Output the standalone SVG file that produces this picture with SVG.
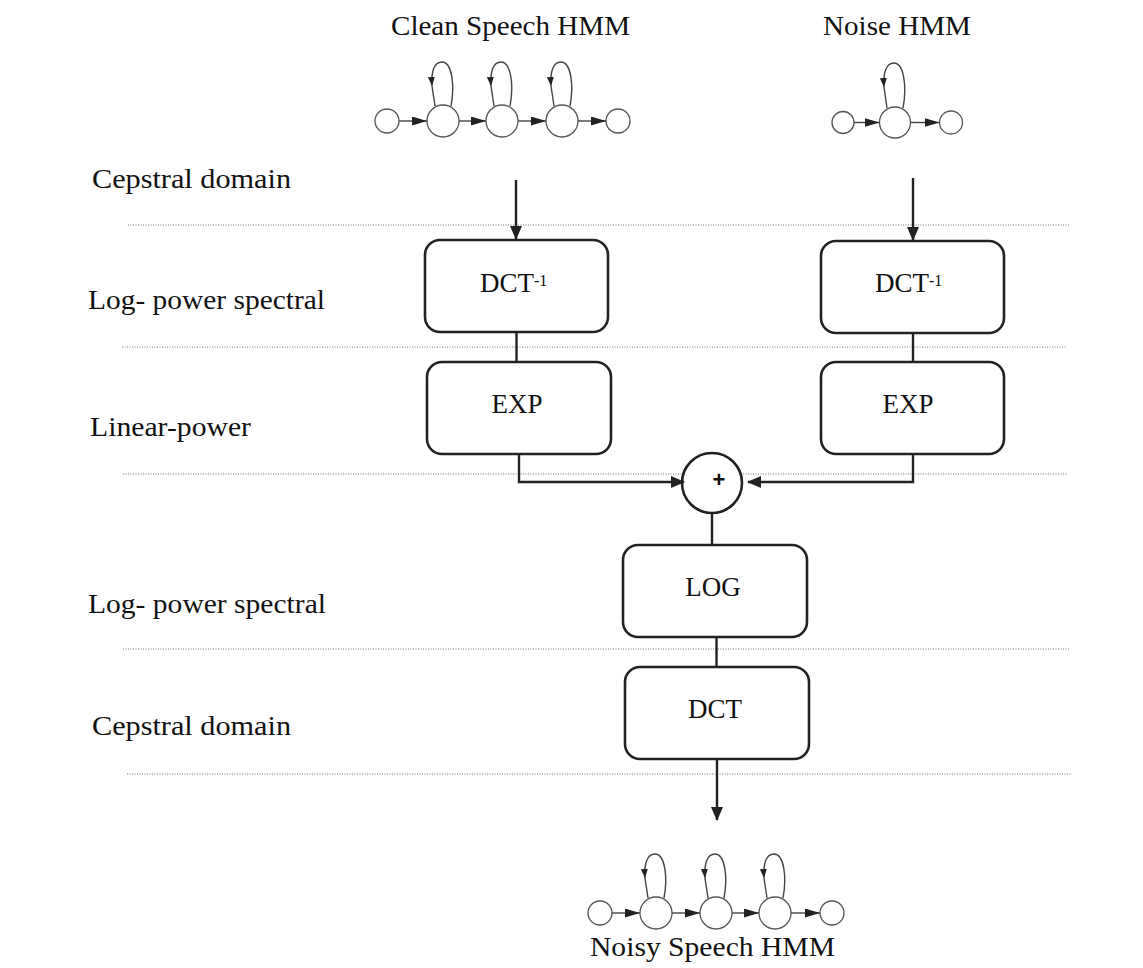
<svg xmlns="http://www.w3.org/2000/svg" width="1143" height="968" viewBox="0 0 1143 968">
<defs>
<style>
.lbl{font-family:"Liberation Serif","Times New Roman",serif;font-size:27px;fill:#111;}
.box{fill:#fff;stroke:#222;stroke-width:2.6;}
.conn{fill:none;stroke:#222;stroke-width:2.4;}
.dot{stroke:#777;stroke-width:1;stroke-dasharray:1 1.5;fill:none;}
.st{fill:#fff;stroke:#555;stroke-width:1.3;}
.hl{fill:none;stroke:#444;stroke-width:1.4;}
</style>
<marker id="arr" markerUnits="userSpaceOnUse" markerWidth="14" markerHeight="12" viewBox="0 0 14 12" refX="13" refY="6" orient="auto">
<path d="M0,0 L14,6 L0,12 z" fill="#222"/>
</marker>
<marker id="harr" markerUnits="userSpaceOnUse" markerWidth="15" markerHeight="9" viewBox="0 0 15 9" refX="15" refY="4.5" orient="auto">
<path d="M0,0 L15,4.5 L0,9 z" fill="#222"/>
</marker>
<marker id="larr" markerUnits="userSpaceOnUse" markerWidth="9" markerHeight="7" viewBox="0 0 9 7" refX="9" refY="3.5" orient="auto">
<path d="M0,0 L9,3.5 L0,7 z" fill="#222"/>
</marker>
</defs>
<rect width="1143" height="968" fill="#fff"/>

<g id="domain-lines">
<line class="dot" x1="128" y1="225" x2="1070" y2="225"/>
<line class="dot" x1="122" y1="347" x2="1066" y2="347"/>
<line class="dot" x1="123" y1="474" x2="1068" y2="474"/>
<line class="dot" x1="123" y1="649" x2="1070" y2="649"/>
<line class="dot" x1="127" y1="774" x2="1072" y2="774"/>
</g>

<g id="domain-labels">
<text class="lbl" x="92" y="188" textLength="199" lengthAdjust="spacingAndGlyphs">Cepstral domain</text>
<text class="lbl" x="88" y="309" textLength="237" lengthAdjust="spacingAndGlyphs">Log- power spectral</text>
<text class="lbl" x="90" y="436" textLength="161" lengthAdjust="spacingAndGlyphs">Linear-power</text>
<text class="lbl" x="88" y="613" textLength="238" lengthAdjust="spacingAndGlyphs">Log- power spectral</text>
<text class="lbl" x="92" y="735" textLength="199" lengthAdjust="spacingAndGlyphs">Cepstral domain</text>
</g>

<g id="clean-hmm">
<text class="lbl" x="391" y="35" textLength="239" lengthAdjust="spacingAndGlyphs">Clean Speech HMM</text>
<circle class="st" cx="387" cy="121" r="12"/>
<circle class="st" cx="443" cy="121" r="16"/>
<circle class="st" cx="502" cy="121" r="16"/>
<circle class="st" cx="562" cy="121" r="16"/>
<circle class="st" cx="618" cy="121" r="12"/>
<line class="hl" x1="399" y1="121" x2="427" y2="121" marker-end="url(#harr)"/>
<line class="hl" x1="459" y1="121" x2="486" y2="121" marker-end="url(#harr)"/>
<line class="hl" x1="518" y1="121" x2="546" y2="121" marker-end="url(#harr)"/>
<line class="hl" x1="578" y1="121" x2="606" y2="121" marker-end="url(#harr)"/>
<path class="hl" d="M451,106 C455,85 452,62 442,62 C434,62 431,72 432,86" marker-end="url(#larr)"/>
<path class="hl" d="M432,86 L435,106"/>
<path class="hl" d="M510,106 C514,85 511,62 501,62 C493,62 490,72 491,86" marker-end="url(#larr)"/>
<path class="hl" d="M491,86 L494,106"/>
<path class="hl" d="M570,106 C574,85 571,62 561,62 C553,62 550,72 551,86" marker-end="url(#larr)"/>
<path class="hl" d="M551,86 L554,106"/>
</g>

<g id="noise-hmm">
<text class="lbl" x="823" y="35" textLength="148" lengthAdjust="spacingAndGlyphs">Noise HMM</text>
<circle class="st" cx="843" cy="122.5" r="11"/>
<circle class="st" cx="895" cy="122.5" r="15.5"/>
<circle class="st" cx="951" cy="122.5" r="11.5"/>
<line class="hl" x1="854" y1="122.5" x2="879.5" y2="122.5" marker-end="url(#harr)"/>
<line class="hl" x1="910.5" y1="122.5" x2="939.5" y2="122.5" marker-end="url(#harr)"/>
<path class="hl" d="M903,108 C907,87 904,63 894,63 C886,63 883,73 884,87" marker-end="url(#larr)"/>
<path class="hl" d="M884,87 L887,108"/>
</g>

<g id="dct-inv-clean">
<rect class="box" x="425" y="240" width="183" height="92" rx="15"/>
<text class="lbl" x="480" y="292">DCT<tspan font-size="16" dy="-6">-1</tspan></text>
</g>
<g id="dct-inv-noise">
<rect class="box" x="821" y="241" width="183" height="92" rx="15"/>
<text class="lbl" x="875" y="292">DCT<tspan font-size="16" dy="-6">-1</tspan></text>
</g>
<g id="exp-clean">
<rect class="box" x="427" y="362" width="184" height="92" rx="15"/>
<text class="lbl" x="517" y="413" text-anchor="middle">EXP</text>
</g>
<g id="exp-noise">
<rect class="box" x="821" y="362" width="183" height="92" rx="15"/>
<text class="lbl" x="908" y="413" text-anchor="middle">EXP</text>
</g>
<g id="sum">
<circle cx="712" cy="483" r="30" fill="#fff" stroke="#222" stroke-width="2.6"/>
<text x="719" y="487" text-anchor="middle" font-family="Liberation Sans, Arial, sans-serif" font-size="22" font-weight="bold" fill="#111">+</text>
</g>
<g id="log">
<rect class="box" x="623" y="545" width="184" height="92" rx="15"/>
<text class="lbl" x="713" y="596" text-anchor="middle">LOG</text>
</g>
<g id="dct">
<rect class="box" x="625" y="667" width="184" height="92" rx="15"/>
<text class="lbl" x="715" y="718" text-anchor="middle">DCT</text>
</g>

<g id="noisy-hmm">
<circle class="st" cx="600" cy="913" r="12"/>
<circle class="st" cx="656" cy="913" r="16"/>
<circle class="st" cx="716" cy="913" r="16"/>
<circle class="st" cx="775" cy="913" r="16"/>
<circle class="st" cx="832" cy="913" r="12"/>
<line class="hl" x1="612" y1="913" x2="640" y2="913" marker-end="url(#harr)"/>
<line class="hl" x1="672" y1="913" x2="700" y2="913" marker-end="url(#harr)"/>
<line class="hl" x1="732" y1="913" x2="759" y2="913" marker-end="url(#harr)"/>
<line class="hl" x1="791" y1="913" x2="820" y2="913" marker-end="url(#harr)"/>
<path class="hl" d="M664,898 C668,877 665,854 655,854 C647,854 644,864 645,878" marker-end="url(#larr)"/>
<path class="hl" d="M645,878 L648,898"/>
<path class="hl" d="M724,898 C728,877 725,854 715,854 C707,854 704,864 705,878" marker-end="url(#larr)"/>
<path class="hl" d="M705,878 L708,898"/>
<path class="hl" d="M783,898 C787,877 784,854 774,854 C766,854 763,864 764,878" marker-end="url(#larr)"/>
<path class="hl" d="M764,878 L767,898"/>
<text class="lbl" x="590" y="956" textLength="245" lengthAdjust="spacingAndGlyphs">Noisy Speech HMM</text>
</g>

<g id="connectors">
<line class="conn" x1="516" y1="180" x2="516" y2="239" marker-end="url(#arr)"/>
<line class="conn" x1="913" y1="178" x2="913" y2="240" marker-end="url(#arr)"/>
<line class="conn" x1="516.5" y1="332" x2="516.5" y2="362"/>
<line class="conn" x1="913" y1="333" x2="913" y2="362"/>
<path class="conn" d="M519,454 V482 H684" marker-end="url(#arr)"/>
<path class="conn" d="M913,454 V482 H748" marker-end="url(#arr)"/>
<line class="conn" x1="712" y1="513" x2="712" y2="545"/>
<line class="conn" x1="716.5" y1="637" x2="716.5" y2="667"/>
<line class="conn" x1="717" y1="759" x2="717" y2="820" marker-end="url(#arr)"/>
</g>
</svg>
